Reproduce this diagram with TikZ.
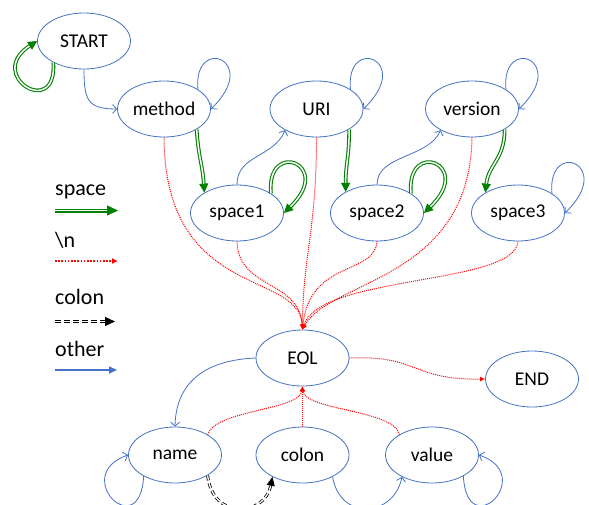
\documentclass[tikz,border=0pt]{standalone}
\usepackage{fontspec}
\setmainfont{Carlito}
\usetikzlibrary{arrows.meta,shapes.geometric}
\definecolor{oblue}{HTML}{4472C4}
\definecolor{ogreen}{HTML}{008000}
\definecolor{ored}{HTML}{FF0000}
\begin{document}
\begin{tikzpicture}[x=1pt,y=-1pt,
  state/.style={ellipse,draw=oblue,line width=0.8pt,minimum width=93pt,minimum height=56pt,inner sep=0pt,font=\fontsize{19.5}{22}\selectfont},
  lbl/.style={anchor=base west,inner sep=0pt,font=\fontsize{22}{26}\selectfont},
  spc/.style={draw=ogreen,double=white,line width=1.1pt,double distance=1.5pt,-{Triangle[length=9pt,width=9pt,fill=ogreen]}},
  nlc/.style={draw=ored,line width=1pt,dash pattern=on 1pt off 1pt,-{Latex[length=5pt,width=5pt]}},
  oth/.style={draw=oblue,line width=0.8pt,-{Straight Barb[length=4pt,width=9pt]}},
  colc/.style={draw=black,double=white,line width=0.8pt,double distance=1.3pt,dash pattern=on 5pt off 3pt,-{Triangle[length=9pt,width=8pt,fill=black]}},
  spleg/.style={draw=ogreen,double=white,line width=1.3pt,double distance=1.4pt,-{Triangle[length=11pt,width=10pt,fill=ogreen]}},
  nlleg/.style={draw=ored,line width=1.6pt,dash pattern=on 1.6pt off 1.6pt,-{Latex[length=6pt,width=6pt]}},
  colleg/.style={draw=black,double=white,line width=1.2pt,double distance=1.4pt,dash pattern=on 6pt off 3pt,-{Triangle[length=10pt,width=9pt,fill=black]}},
  othleg/.style={draw=oblue,line width=1.6pt,-{Triangle[length=8pt,width=7pt]}}
]
\useasboundingbox (0,0) rectangle (589,504);
% states
\node[state] (start) at (84,41) {START};
\node[state] (method) at (164,109) {method};
\node[state] (uri) at (316.5,109) {URI};
\node[state] (version) at (472,109) {version};
\node[state] (space1) at (237,213) {space1};
\node[state] (space2) at (377,213) {space2};
\node[state] (space3) at (518,213) {space3};
\node[state] (eol) at (302.5,358) {EOL};
\node[state] (end) at (532,379) {END};
\node[state] (name) at (175,455) {name};
\node[state] (colon) at (302.5,455) {colon};
\node[state] (value) at (432,455) {value};
% legend
\node[lbl] (tspace) at (55,195) {space};
\coordinate (la1) at (55,210.5); \coordinate (lb1) at (118,210.5);
\draw[spleg] (la1) -- (lb1);
\node[lbl] (tnl) at (55,247) {\textbackslash n};
\coordinate (la2) at (55,261); \coordinate (lb2) at (118,261);
\draw[nlleg] (la2) -- (lb2);
\node[lbl] (tcol) at (55,304) {colon};
\coordinate (la3) at (55,321.5); \coordinate (lb3) at (115,321.5);
\draw[colleg] (la3) -- (lb3);
\node[lbl] (toth) at (55,356) {other};
\coordinate (la4) at (55,370); \coordinate (lb4) at (117,370);
\draw[othleg] (la4) -- (lb4);
% top part
\draw[spc] (start.215) .. controls +(4,58) and +(-52.5,34) .. (start.west);
\draw[oth] (start.south) .. controls +(0,30) and +(-30,0) .. (method.west);
\draw[oth] (method.30) .. controls +(-5,-55) and +(51,-49) .. (method.east);
\draw[spc] (method.-32) .. controls +(2,30) and +(-2,-30) .. (space1.148);
\draw[oth] (space1.north) .. controls +(0,-30) and +(-12,28) .. (uri.214);
\draw[spc] (space1.30) .. controls +(-5,-55) and +(51,-49) .. (space1.east);
\draw[oth] (uri.30) .. controls +(-5,-55) and +(51,-49) .. (uri.east);
\draw[spc] (uri.-32) .. controls +(0,30) and +(0,-30) .. (space2.146);
\draw[oth] (space2.north) .. controls +(0,-30) and +(-12,28) .. (version.214);
\draw[spc] (space2.30) .. controls +(-5,-55) and +(51,-49) .. (space2.east);
\draw[oth] (version.30) .. controls +(-5,-55) and +(51,-49) .. (version.east);
\draw[spc] (version.-32) .. controls +(0,30) and +(3,-28) .. (space3.148);
\draw[oth] (space3.30) .. controls +(-5,-55) and +(51,-49) .. (space3.east);
% newline edges to EOL
\draw[nlc] (method.south) .. controls +(1,163) and +(-3,-60) .. (eol.north);
\draw[nlc] (space1.south) .. controls +(1,48) and +(-3,-50) .. (eol.north);
\draw[nlc] (uri.south) .. controls +(0,93) and +(0,-70) .. (eol.north);
\draw[nlc] (space2.south) .. controls +(-2,34) and +(7,-70) .. (eol.north);
\draw[nlc] (version.south) .. controls +(-2,143) and +(27,-50) .. (eol.north);
\draw[nlc] (space3.south) .. controls +(-3,44) and +(17,-55) .. (eol.north);
\draw[nlc] (eol.east) .. controls +(70,-3) and +(-75,1) .. (end.west);
% header part
\draw[oth] (eol.west) .. controls +(-47,2) and +(1,-47) .. (name.north);
\draw[nlc] (name.32) .. controls +(8,-25) and +(-3,24) .. (eol.south);
\draw[nlc] (colon.north) -- (eol.south);
\draw[nlc] (value.148) .. controls +(-5,-25) and +(2,24) .. (eol.south);
\draw[oth] (name.214) .. controls +(-4,69) and +(-58.5,20) .. (name.west);
\draw[oth] (value.-34) .. controls +(4,69) and +(58.5,20) .. (value.east);
\draw[colc] (name.-32) .. controls +(5,45) and +(-8,40) .. (colon.216);
\draw[oth] (colon.-36) .. controls +(8,45) and +(-8,40) .. (value.216);
\end{tikzpicture}
\end{document}
